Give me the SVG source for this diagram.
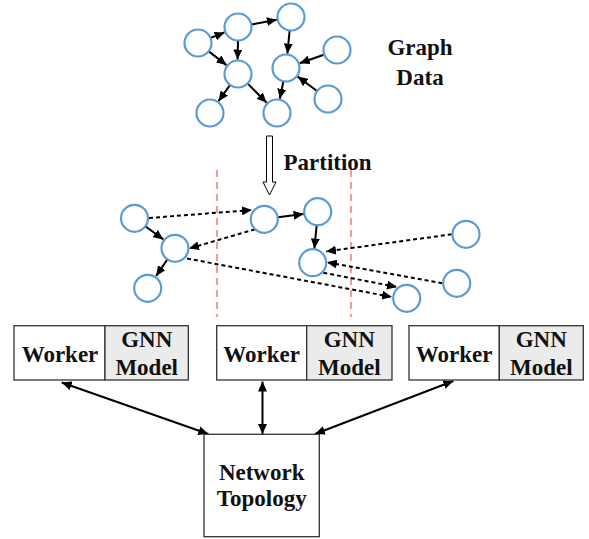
<svg xmlns="http://www.w3.org/2000/svg" width="589" height="539" viewBox="0 0 589 539">
<style>
.n{fill:#fff;stroke:#5b9bd5;stroke-width:2.2}
.e{stroke:#000;stroke-width:2;fill:none;marker-end:url(#ah)}
.d{stroke:#000;stroke-width:2;fill:none;stroke-dasharray:4 3;marker-end:url(#ah)}
.b{stroke:#000;stroke-width:2;fill:none;marker-start:url(#ah);marker-end:url(#ah)}
.cut{stroke:#f08080;stroke-width:1.6;stroke-dasharray:7 5;fill:none}
.box{fill:#fff;stroke:#333;stroke-width:1.3}
.gnn{fill:#ebebeb;stroke:#333;stroke-width:1.3}
text{font-family:"Liberation Serif","Times New Roman",serif;font-weight:bold;font-size:23px;fill:#111;text-anchor:middle}
</style>
<defs>
<marker id="ah" markerUnits="userSpaceOnUse" markerWidth="11" markerHeight="9" refX="10" refY="4.5" orient="auto-start-reverse">
<path d="M0,0 L10,4.5 L0,9 z" fill="#000"/>
</marker>
</defs>

<g id="connectors">
<!-- top graph -->
<line class="e" x1="211" y1="37.8" x2="224.5" y2="32.4"/>
<line class="e" x1="251.8" y1="24.4" x2="276.8" y2="19.7"/>
<line class="e" x1="209.1" y1="51.6" x2="226.5" y2="65.1"/>
<line class="e" x1="238" y1="41" x2="237.6" y2="59.5"/>
<line class="e" x1="289.6" y1="30.9" x2="287.4" y2="53.6"/>
<line class="e" x1="323.8" y1="54.7" x2="299.7" y2="63.2"/>
<line class="e" x1="316.7" y1="90.7" x2="297.7" y2="76.6"/>
<line class="e" x1="229.8" y1="85.4" x2="218.5" y2="101.2"/>
<line class="e" x1="247.9" y1="83.9" x2="266.7" y2="102.7"/>
<line class="e" x1="283.3" y1="81.7" x2="279.8" y2="98.8"/>
<!-- partition arrow -->
<polygon points="266.5,136 272.5,136 272.5,182 276,182 269.5,195 263,182 266.5,182" fill="#fff" stroke="#000" stroke-width="1"/>
<!-- cut lines -->
<line class="cut" x1="217" y1="170" x2="217" y2="317"/>
<line class="cut" x1="351" y1="170" x2="351" y2="317"/>
<!-- middle graph -->
<line class="d" x1="149" y1="218" x2="252" y2="210"/>
<line class="e" x1="145.3" y1="226.3" x2="163.3" y2="239.4"/>
<line class="d" x1="255" y1="229.3" x2="189" y2="248.5"/>
<line class="e" x1="167.2" y1="259.6" x2="156.1" y2="276"/>
<line class="d" x1="187" y1="258.5" x2="392" y2="297"/>
<line class="d" x1="323.3" y1="272.7" x2="397" y2="287"/>
<line class="e" x1="277.9" y1="217.2" x2="303.6" y2="213.9"/>
<line class="e" x1="316.6" y1="225.9" x2="314.4" y2="248.6"/>
<line class="d" x1="451.7" y1="234.3" x2="326" y2="251.5"/>
<line class="d" x1="442.3" y1="283.3" x2="327" y2="262.3"/>
<!-- bottom -->
<line class="b" x1="61.7" y1="382.5" x2="208.3" y2="434"/>
<line class="b" x1="262.5" y1="381.5" x2="262.5" y2="434"/>
<line class="b" x1="453.3" y1="381" x2="315" y2="434"/>
</g>

<g id="graph-data">
<circle class="n" cx="198" cy="43" r="13.5"/>
<circle class="n" cx="238" cy="27" r="13.5"/>
<circle class="n" cx="291" cy="17" r="13.5"/>
<circle class="n" cx="238" cy="74" r="13.5"/>
<circle class="n" cx="286" cy="68" r="13.5"/>
<circle class="n" cx="337" cy="50" r="13.5"/>
<circle class="n" cx="210" cy="113" r="13.5"/>
<circle class="n" cx="277" cy="113" r="13.5"/>
<circle class="n" cx="328" cy="99" r="13.5"/>
<text x="420" y="55">Graph</text>
<text x="420" y="85">Data</text>
</g>

<g id="partition-label">
<text x="283.5" y="170" style="text-anchor:start">Partition</text>
</g>

<g id="partitioned-graph">
<circle class="n" cx="134.5" cy="218.3" r="13.5"/>
<circle class="n" cx="175" cy="248.3" r="13.5"/>
<circle class="n" cx="147.7" cy="288.3" r="13.5"/>
<circle class="n" cx="264.3" cy="219.3" r="13.5"/>
<circle class="n" cx="317.7" cy="211.7" r="13.5"/>
<circle class="n" cx="312.7" cy="262.7" r="13.5"/>
<circle class="n" cx="406.7" cy="298.3" r="13.5"/>
<circle class="n" cx="466" cy="234.3" r="13.5"/>
<circle class="n" cx="456.7" cy="283.3" r="13.5"/>
</g>

<g id="worker1">
<rect class="box" x="14" y="325.7" width="91" height="54.3"/>
<rect class="gnn" x="105" y="325.7" width="83.3" height="54.3"/>
<text x="60" y="361.7">Worker</text>
<text x="146.7" y="346.7">GNN</text>
<text x="146.7" y="375">Model</text>
</g>

<g id="worker2">
<rect class="box" x="216.7" y="325.7" width="90" height="54.3"/>
<rect class="gnn" x="306.7" y="325.7" width="85.3" height="54.3"/>
<text x="261.7" y="361.7">Worker</text>
<text x="349.3" y="346.7">GNN</text>
<text x="349.3" y="375">Model</text>
</g>

<g id="worker3">
<rect class="box" x="409" y="325.7" width="90.3" height="54.3"/>
<rect class="gnn" x="499.3" y="325.7" width="84" height="54.3"/>
<text x="454.2" y="361.7">Worker</text>
<text x="541.3" y="346.7">GNN</text>
<text x="541.3" y="375">Model</text>
</g>

<g id="network-topology">
<rect class="box" x="204" y="434.3" width="115.3" height="102.4"/>
<text x="261.7" y="480">Network</text>
<text x="261.7" y="506">Topology</text>
</g>
</svg>
